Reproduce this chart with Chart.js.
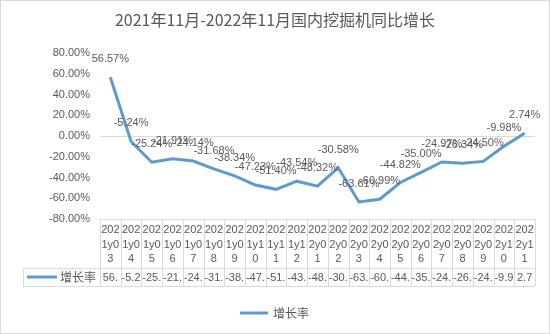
<!DOCTYPE html>
<html>
<head>
<meta charset="utf-8">
<script src="https://cdn.jsdelivr.net/npm/chart.js@4"></script>
<style>
  body { margin: 0; background: #fff; }
  canvas { display: block; }
</style>
</head>
<body>
<canvas id="myChart" width="550" height="334"></canvas>
<script>
const title = "2021年11月-2022年11月国内挖掘机同比增长";
const seriesName = "增长率";
const months = [
  "2021y03", "2021y04", "2021y05", "2021y06", "2021y07", "2021y08", "2021y09",
  "2021y10", "2021y11", "2021y12", "2022y01", "2022y02", "2022y03", "2022y04",
  "2022y05", "2022y06", "2022y07", "2022y08", "2022y09", "2022y10", "2022y11",
];
const growth = [
  56.57, -5.24, -25.24, -21.91, -24.14, -31.68, -38.34,
  -47.23, -51.40, -43.54, -48.32, -30.58, -63.61, -60.99,
  -44.82, -35.00, -24.97, -26.34, -24.50, -9.98, 2.74,
];
const yTicks = [-80, -60, -40, -20, 0, 20, 40, 60, 80];

const lineColor = "#5B9BD5";
const textColor = "#595959";
const borderColor = "#D9D9D9";
const latin = "'Liberation Sans', Arial, sans-serif";
const cjk = "'Noto Sans CJK SC', 'Liberation Sans', sans-serif";

const pct = (v) => v.toFixed(2) + "%";

// cut text so it fits in a table cell, like Excel does
function fitText(ctx, text, maxW) {
  let s = text;
  while (s.length > 1 && ctx.measureText(s).width > maxW) s = s.slice(0, -1);
  return s;
}

// wrap text char by char into lines that fit a cell
function wrapText(ctx, text, maxW) {
  const lines = [];
  let cur = "";
  for (const ch of text) {
    if (cur && ctx.measureText(cur + ch).width > maxW) {
      lines.push(cur);
      cur = ch;
    } else cur += ch;
  }
  if (cur) lines.push(cur);
  return lines;
}

/*
 * Draws title, data labels, data table and bottom legend
 */
const excelPlugin = {
  id: "excelLook",
  afterDatasetsDraw(chart) {
    const { ctx, chartArea: area } = chart;
    const x = chart.scales.x;
    const meta = chart.getDatasetMeta(0);
    ctx.save();

    // outer border
    ctx.strokeStyle = borderColor;
    ctx.lineWidth = 1;
    ctx.strokeRect(0.5, 0.5, chart.width - 1, chart.height - 1);

    // title
    ctx.fillStyle = textColor;
    ctx.font = "16px " + cjk;
    ctx.textAlign = "center";
    ctx.textBaseline = "middle";
    ctx.fillText(title, chart.width / 2, 20);

    // data labels above the points
    ctx.font = "11px " + latin;
    meta.data.forEach((pt, i) => {
      ctx.fillText(pct(growth[i]), pt.x, pt.y - 18);
    });

    // data table
    const colW = (area.right - area.left) / months.length;
    const top = area.bottom;
    const headBottom = top + 49;
    const rowBottom = headBottom + 18;
    const keyLeft = 23;

    ctx.strokeStyle = borderColor;
    ctx.beginPath();
    ctx.moveTo(area.left, top + 0.5);
    ctx.lineTo(area.right, top + 0.5);
    ctx.moveTo(keyLeft, headBottom + 0.5);
    ctx.lineTo(area.right, headBottom + 0.5);
    ctx.moveTo(keyLeft, rowBottom + 0.5);
    ctx.lineTo(area.right, rowBottom + 0.5);
    ctx.moveTo(keyLeft + 0.5, headBottom);
    ctx.lineTo(keyLeft + 0.5, rowBottom);
    for (let i = 0; i <= months.length; i++) {
      const cx = Math.round(area.left + i * colW) + 0.5;
      ctx.moveTo(cx, top);
      ctx.lineTo(cx, rowBottom);
    }
    ctx.stroke();

    ctx.fillStyle = textColor;
    ctx.font = "11px " + latin;
    months.forEach((m, i) => {
      const cx = x.getPixelForValue(i);
      const lines = wrapText(ctx, m, colW - 1);
      lines.forEach((ln, j) => {
        ctx.fillText(ln, cx, top + 11 + j * 14.5);
      });
      ctx.fillText(fitText(ctx, pct(growth[i]), colW - 1), cx, (headBottom + rowBottom) / 2 + 1);
    });

    // legend key in table
    const keyY = (headBottom + rowBottom) / 2;
    ctx.strokeStyle = lineColor;
    ctx.lineWidth = 3;
    ctx.beginPath();
    ctx.moveTo(27, keyY);
    ctx.lineTo(57, keyY);
    ctx.stroke();
    ctx.font = "12px " + cjk;
    ctx.textAlign = "left";
    ctx.fillText(seriesName, 60, keyY);

    // bottom legend
    ctx.beginPath();
    ctx.moveTo(240, 313);
    ctx.lineTo(268, 313);
    ctx.stroke();
    ctx.fillText(seriesName, 273, 313);

    ctx.restore();
  },
};

const config = {
  type: "line",
  data: {
    labels: months,
    datasets: [
      {
        label: seriesName,
        data: growth,
        borderColor: lineColor,
        backgroundColor: lineColor,
        borderWidth: 3,
        pointRadius: 0,
        tension: 0,
      },
    ],
  },
  options: {
    responsive: false,
    animation: false,
    layout: {
      padding: { top: 53, bottom: 115, left: 0, right: 15 },
    },
    scales: {
      x: {
        display: false,
        offset: true,
      },
      y: {
        min: -80,
        max: 80,
        afterFit: (scale) => { scale.width = 100; },
        afterBuildTicks: (scale) => { scale.ticks = yTicks.map((v) => ({ value: v })); },
        border: { display: false },
        grid: {
          drawTicks: false,
          color: (c) => (c.tick && c.tick.value === 0 ? borderColor : "rgba(0,0,0,0)"),
        },
        ticks: {
          padding: 10,
          color: textColor,
          font: { family: latin, size: 11 },
          callback: (v) => pct(v),
        },
      },
    },
    plugins: {
      legend: { display: false },
      tooltip: { enabled: false },
    },
  },
  plugins: [excelPlugin],
};

new Chart(document.getElementById("myChart"), config);
</script>
</body>
</html>
